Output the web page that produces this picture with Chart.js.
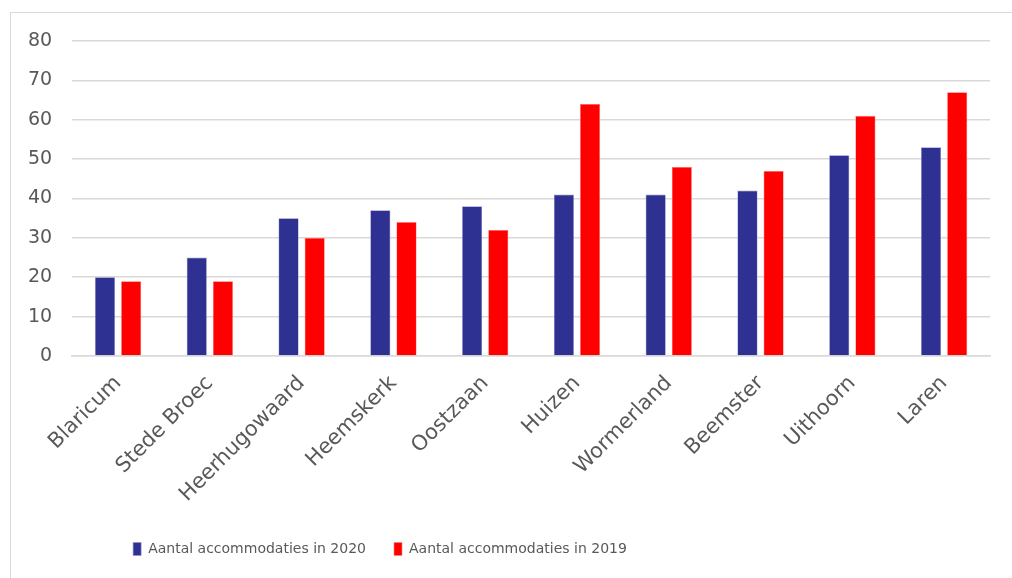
<!DOCTYPE html>
<html>
<head>
<meta charset="utf-8">
<script src="https://cdn.jsdelivr.net/npm/chart.js@4.4.1/dist/chart.umd.min.js"></script>
<style>
  html, body { margin: 0; padding: 0; background: #fff; }
  #wrap { position: relative; width: 1012px; height: 578px; overflow: hidden; }
  #frame { position: absolute; left: 10px; top: 12px; width: 1020px; height: 600px;
           border-left: 1.5px solid #d9d9d9; border-top: 1.5px solid #d9d9d9; }
  canvas { position: absolute; left: 0; top: 0; }
</style>
</head>
<body>
<div id="wrap">
  <div id="frame"></div>
  <canvas id="chart" width="1012" height="578"></canvas>
</div>
<script>
// gemeenten en aantallen accommodaties
const GEMEENTEN = ['Blaricum', 'Stede Broec', 'Heerhugowaard', 'Heemskerk', 'Oostzaan',
                   'Huizen', 'Wormerland', 'Beemster', 'Uithoorn', 'Laren'];
const ACC_2020 = [20, 25, 35, 37, 38, 41, 41, 42, 51, 53];
const ACC_2019 = [19, 19, 30, 34, 32, 64, 48, 47, 61, 67];
const Y_TICKS  = [0, 10, 20, 30, 40, 50, 60, 70, 80];

const GRIJS  = '#d9d9d9';
const TEKST  = '#595959';
const FONT   = '"DejaVu Sans", sans-serif';

// legenda iets naar links schuiven (zoals in het origineel)
const legendaLinks = {
  id: 'legendaLinks',
  afterLayout(chart) {
    if (!chart.legend) return;
    chart.legend.left = 0;
    chart.legend.right = 760;
  },
};

const ctx = document.getElementById('chart');
new Chart(ctx, {
  type: 'bar',
  data: {
    labels: GEMEENTEN,
    datasets: [
      { label: 'Aantal accommodaties in 2020', data: ACC_2020,
        backgroundColor: '#2e3192', borderColor: '#8f91c4', borderWidth: 0.6,
        categoryPercentage: 0.57, barPercentage: 0.77 },
      { label: 'Aantal accommodaties in 2019', data: ACC_2019,
        backgroundColor: '#ff0000', borderColor: '#ff8080', borderWidth: 0.6,
        categoryPercentage: 0.57, barPercentage: 0.77 },
    ],
  },
  plugins: [legendaLinks],
  options: {
    responsive: false, animation: false,
    layout: { padding: { left: 8, right: 22, top: 41, bottom: 12 } },
    plugins: {
      tooltip: { enabled: false },
      legend: {
        position: 'bottom',
        labels: {
          color: TEKST, font: { family: FONT, size: 14 },
          boxWidth: 8, boxHeight: 13, padding: 28,
        },
      },
    },
    scales: {
      x: {
        grid: { display: false },
        border: { color: GRIJS, width: 1.5 },
        ticks: { color: TEKST, font: { family: FONT, size: 21 },
                 minRotation: 45, maxRotation: 45, padding: 7 },
      },
      y: {
        min: 0, max: 80,
        afterBuildTicks: s => { s.ticks = Y_TICKS.map(v => ({ value: v })); },
        grid: { color: GRIJS, lineWidth: 1.5, drawTicks: false },
        border: { display: false },
        ticks: { color: TEKST, font: { family: FONT, size: 19 }, padding: 20 },
      },
    },
  },
});
</script>
</body>
</html>
